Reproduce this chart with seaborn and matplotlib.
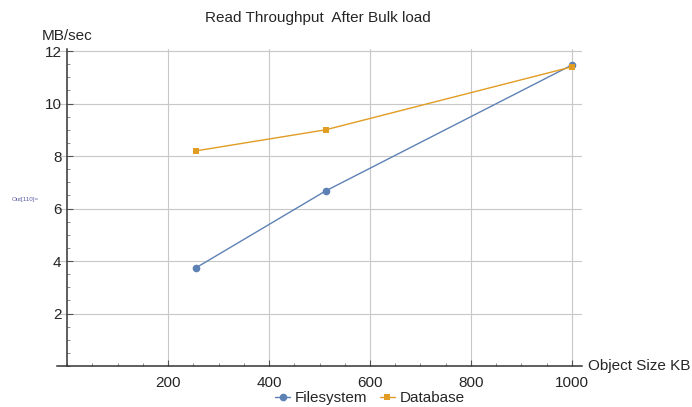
import pandas as pd
import numpy as np
import seaborn as sns
import matplotlib.pyplot as plt
from matplotlib.ticker import MultipleLocator, FixedLocator

# values
sizes_kb = [256, 512, 1000]
filesystem = [3.75, 6.67, 11.47]
database = [8.2, 9.0, 11.4]
series_names = ["Filesystem", "Database"]
x_ticks = [200, 400, 600, 800, 1000]
y_ticks = [2, 4, 6, 8, 10, 12]

df = pd.DataFrame({
    "size": sizes_kb * 2,
    "mbps": filesystem + database,
    "series": [series_names[0]] * 3 + [series_names[1]] * 3,
})

sns.set_style("white")
plt.rcParams["font.family"] = ["Liberation Sans", "DejaVu Sans"]

fig = plt.figure(figsize=(6.92, 4.07), dpi=100)
ax = fig.add_axes([57 / 692, 41 / 407, 525 / 692, 317 / 407])

palette = {"Filesystem": "#5E81B5", "Database": "#E19C24"}
sns.lineplot(data=df, x="size", y="mbps", hue="series", style="series",
             markers={"Filesystem": "o", "Database": "s"}, dashes=False,
             palette=palette, linewidth=1, markersize=5.5, markeredgewidth=0,
             ax=ax, legend=True)

# squares look bigger than circles at the same size, shrink them
for ln in ax.lines:
    if ln.get_marker() == "s":
        ln.set_markersize(4.2)

ax.set_xlim(-20, 1020)
ax.set_ylim(0, 12.08)

ax.spines["top"].set_visible(False)
ax.spines["right"].set_visible(False)
ax.spines["left"].set_position(("data", 0))
for s in ["left", "bottom"]:
    ax.spines[s].set_color("#333333")
    ax.spines[s].set_linewidth(1.1)

ax.xaxis.set_major_locator(FixedLocator(x_ticks))
ax.yaxis.set_major_locator(FixedLocator(y_ticks))
ax.xaxis.set_minor_locator(MultipleLocator(50))
ax.yaxis.set_minor_locator(MultipleLocator(0.5))
ax.tick_params(which="major", direction="in", length=4, width=0.8, color="#555555",
               labelsize=11, bottom=True, left=True)
ax.tick_params(axis="x", which="major", pad=7)
ax.tick_params(axis="y", which="major", pad=4)
ax.tick_params(which="minor", direction="in", length=2, width=0.6, color="#777777",
               bottom=True, left=True)
ax.grid(True, which="major", color="#c8c8c8", linewidth=0.8)
ax.set_axisbelow(True)
ax.set_xlabel("")
ax.set_ylabel("")

handles, labels = ax.get_legend_handles_labels()
for h in handles:
    if h.get_marker() == "s":
        h.set_markersize(4.2)
ax.get_legend().remove()
fig.legend(handles, labels, loc="center", bbox_to_anchor=(370 / 692, 1 - 398 / 407),
           ncol=2, frameon=False, fontsize=11, handlelength=1.0, handletextpad=0.3,
           columnspacing=0.8)

fig.text(318 / 692, 1 - 18 / 407, "Read Throughput  After Bulk load",
         ha="center", va="center", fontsize=11)
fig.text(67 / 692, 1 - 36 / 407, "MB/sec", ha="center", va="center", fontsize=11)
fig.text(588 / 692, 1 - 366 / 407, "Object Size KB", ha="left", va="center", fontsize=11)
fig.text(12 / 692, 1 - 199 / 407, "Out[110]=", ha="left", va="center",
         fontsize=4.5, color="#6060a8")

fig.savefig("out.png", dpi=100)
